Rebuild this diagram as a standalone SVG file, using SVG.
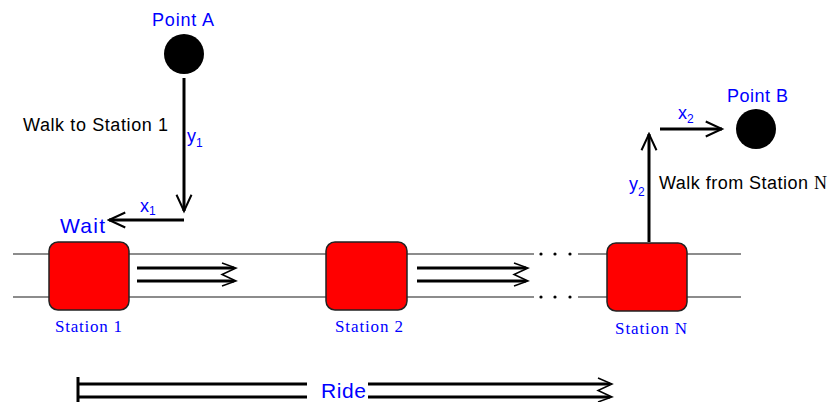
<svg xmlns="http://www.w3.org/2000/svg" width="840" height="402" viewBox="0 0 840 402">
<defs>
<marker id="ah" markerUnits="userSpaceOnUse" markerWidth="20" markerHeight="20" viewBox="-14 -8 16 16" refX="0" refY="0" orient="auto">
<path d="M-13,-6 L0,0 L-13,6" fill="none" stroke="#000" stroke-width="1.6"/>
</marker>
</defs>
<style>
.lbl{font-family:"Liberation Sans",Arial,sans-serif;fill:#0000ff}
.blk{font-family:"Liberation Sans",Arial,sans-serif;fill:#000}
.st{font-family:"Liberation Serif","Times New Roman",serif;fill:#0000ff;font-size:17px}
.sub{font-size:12px}
.arr{stroke:#000;stroke-width:3;fill:none}
.zig{stroke:#000;stroke-width:1.5;fill:none}
.track{stroke:#666;stroke-width:1.5;fill:none}
.box{fill:#ff0000;stroke:#222;stroke-width:1.5}
.dot{fill:#000}
</style>
<rect width="840" height="402" fill="#fff"/>

<g id="tracks">
<line class="track" x1="13" y1="254" x2="534" y2="254"/>
<line class="track" x1="578" y1="254" x2="741" y2="254"/>
<line class="track" x1="13" y1="297" x2="534" y2="297"/>
<line class="track" x1="578" y1="297" x2="741" y2="297"/>
<circle class="dot" cx="541" cy="254" r="1.6"/>
<circle class="dot" cx="555" cy="254" r="1.6"/>
<circle class="dot" cx="570" cy="254" r="1.6"/>
<circle class="dot" cx="541" cy="297" r="1.6"/>
<circle class="dot" cx="555" cy="297" r="1.6"/>
<circle class="dot" cx="570" cy="297" r="1.6"/>
</g>

<g id="pointA">
<circle cx="184" cy="54" r="20" fill="#000"/>
<text class="lbl" x="152" y="26" font-size="18" textLength="62">Point A</text>
</g>

<g id="pointB">
<circle cx="756" cy="129" r="20" fill="#000"/>
<text class="lbl" x="727" y="102" font-size="18" textLength="61">Point B</text>
</g>

<g id="station1">
<rect class="box" x="49" y="242" width="80" height="68" rx="9"/>
<text class="st" x="55" y="332" textLength="67">Station 1</text>
</g>

<g id="station2">
<rect class="box" x="326" y="242" width="81" height="68" rx="9"/>
<text class="st" x="335" y="332" textLength="68">Station 2</text>
</g>

<g id="stationN">
<rect class="box" x="607" y="243" width="80" height="68" rx="9"/>
<text class="st" x="615" y="334" textLength="72">Station N</text>
</g>

<g id="connectors">
<line class="arr" x1="184" y1="78" x2="184" y2="211" marker-end="url(#ah)"/>
<line class="arr" x1="184" y1="220" x2="109" y2="220" marker-end="url(#ah)"/>
<line class="arr" x1="649" y1="242" x2="649" y2="134" marker-end="url(#ah)"/>
<line class="arr" x1="660" y1="129" x2="722" y2="129" marker-end="url(#ah)"/>

<line class="arr" x1="137" y1="268" x2="234" y2="268"/>
<line class="arr" x1="137" y1="281" x2="234" y2="281"/>
<polyline class="zig" points="222,263 236,268 222,274.5 236,281 222,286"/>

<line class="arr" x1="417" y1="268" x2="526" y2="268"/>
<line class="arr" x1="417" y1="281" x2="526" y2="281"/>
<polyline class="zig" points="514,263 528,268 514,274.5 528,281 514,286"/>

<line stroke="#000" stroke-width="3" x1="78" y1="377" x2="78" y2="402"/>
<line class="arr" x1="78" y1="384" x2="307" y2="384"/>
<line class="arr" x1="78" y1="397" x2="307" y2="397"/>
<line class="arr" x1="368" y1="384" x2="610" y2="384"/>
<line class="arr" x1="368" y1="397" x2="610" y2="397"/>
<polyline class="zig" points="598,378 612,384 598,390.5 612,397 598,402"/>
</g>

<g id="labels">
<text class="blk" x="23" y="131" font-size="18" textLength="145">Walk to Station 1</text>
<text class="blk" x="659" y="189" font-size="18" textLength="149">Walk from Station</text>
<text x="814" y="189" font-family="Liberation Serif,serif" font-size="18" fill="#000">N</text>
<text class="lbl" x="60" y="233" font-size="21" textLength="45">Wait</text>
<text class="lbl" x="140" y="212" font-size="18">x<tspan class="sub" dy="3">1</tspan></text>
<text class="lbl" x="187" y="142" font-size="18">y<tspan class="sub" dy="5">1</tspan></text>
<text class="lbl" x="678" y="119" font-size="18">x<tspan class="sub" dy="4">2</tspan></text>
<text class="lbl" x="629" y="190" font-size="18">y<tspan class="sub" dy="6">2</tspan></text>
<text class="lbl" x="321" y="398" font-size="21" textLength="45">Ride</text>
</g>
</svg>
